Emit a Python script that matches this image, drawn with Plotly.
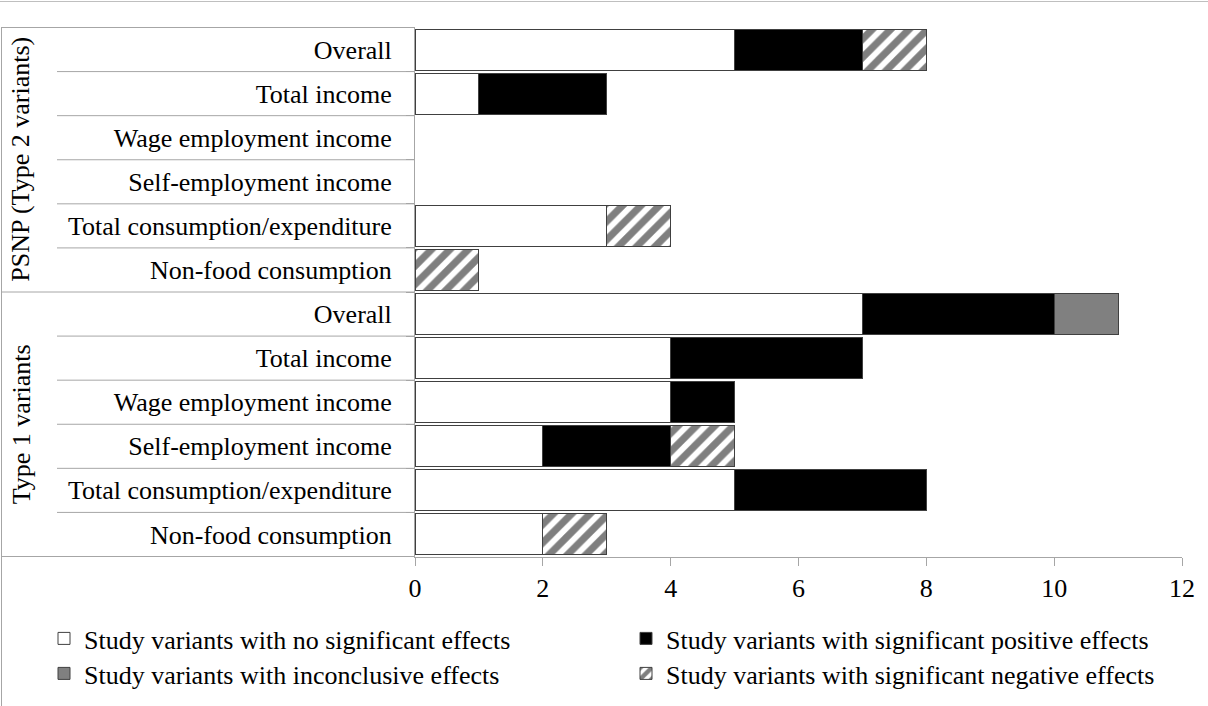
import plotly.graph_objects as go

# ---------------- data ----------------
groups = ["PSNP (Type 2 variants)"] * 6 + ["Type 1 variants"] * 6
outcomes = ["Overall", "Total income", "Wage employment income",
            "Self-employment income", "Total consumption/expenditure",
            "Non-food consumption"] * 2

no_sig = [5, 1, 0, 0, 3, 0, 7, 4, 4, 2, 5, 2]
sig_pos = [2, 2, 0, 0, 0, 0, 3, 3, 1, 2, 3, 0]
inconclusive = [0, 0, 0, 0, 0, 0, 1, 0, 0, 0, 0, 0]
sig_neg = [1, 0, 0, 0, 1, 1, 0, 0, 0, 1, 0, 1]

series_names = ["Study variants with no significant effects",
                "Study variants with significant positive effects",
                "Study variants with inconclusive effects",
                "Study variants with significant negative effects"]

x_ticks = [0, 2, 4, 6, 8, 10, 12]

# ---------------- layout constants ----------------
W, H = 1208, 706
ML, MR, MT, MB = 415, 26, 27, 149
PW, PH = W - ML - MR, H - MT - MB
FONT = "Liberation Serif"
GRID = "#a6a6a6"

def px_to_paper_x(px):
    return (px - ML) / PW

def px_to_paper_y(py):
    return (H - MB - py) / PH

ids = [f"{g} | {o}" for g, o in zip(groups, outcomes)]

def nz(vals):
    return [v if v else None for v in vals]

fig = go.Figure()
outline = dict(color="#404040", width=1)
fig.add_bar(y=ids, x=nz(no_sig), orientation="h", name=series_names[0],
            marker=dict(color="white", line=outline), legend="legend")
fig.add_bar(y=ids, x=nz(sig_pos), orientation="h", name=series_names[1],
            marker=dict(color="black", line=outline), legend="legend2")
fig.add_bar(y=ids, x=nz(inconclusive), orientation="h", name=series_names[2],
            marker=dict(color="#808080", line=outline), legend="legend3")
fig.add_bar(y=ids, x=nz(sig_neg), orientation="h", name=series_names[3],
            marker=dict(color="white", line=outline,
                        pattern=dict(shape="/", fgcolor="black", bgcolor="white",
                                     size=13, solidity=0.55)),
            legend="legend4")

shapes = []
n = len(ids)
xl_table = px_to_paper_x(1.5)
xl_inner = px_to_paper_x(57)
# horizontal separators of the category table
for k in range(n + 1):
    b = k - 0.5
    x0 = xl_table if k in (0, 6, 12) else xl_inner
    shapes.append(dict(type="line", xref="paper", yref="y", x0=x0, x1=0,
                       y0=b, y1=b, line=dict(color=GRID, width=1)))
# left vertical line of the table / frame
shapes.append(dict(type="line", xref="paper", yref="paper", x0=xl_table, x1=xl_table,
                   y0=px_to_paper_y(H), y1=1, line=dict(color=GRID, width=1)))
# top frame line
shapes.append(dict(type="line", xref="paper", yref="paper",
                   x0=px_to_paper_x(0), x1=px_to_paper_x(W),
                   y0=px_to_paper_y(1.5), y1=px_to_paper_y(1.5),
                   line=dict(color="#bfbfbf", width=1)))

annotations = []
for gname, center in [("PSNP (Type 2 variants)", 2.5), ("Type 1 variants", 8.5)]:
    annotations.append(dict(text=gname, xref="paper", yref="y",
                            x=px_to_paper_x(21), y=center, textangle=-90,
                            xanchor="center", yanchor="middle",
                            showarrow=False,
                            font=dict(family=FONT, size=26, color="black")))

legend_common = dict(orientation="v", xref="container", yref="container",
                     xanchor="left", yanchor="top", traceorder="normal",
                     font=dict(family=FONT, size=26, color="black"),
                     itemwidth=30, tracegroupgap=0, bgcolor="rgba(0,0,0,0)")

row1_top, row2_top = 615, 650
col1_x, col2_x = 44, 626

fig.update_layout(
    width=W, height=H, autosize=False,
    margin=dict(l=ML, r=MR, t=MT, b=MB, autoexpand=False),
    plot_bgcolor="white", paper_bgcolor="white",
    barmode="stack", bargap=0.07,
    font=dict(family=FONT, size=26, color="black"),
    shapes=shapes, annotations=annotations,
    xaxis=dict(range=[0, 12], tickvals=x_ticks, showgrid=False, zeroline=False,
               showline=True, linecolor=GRID, linewidth=1, automargin=False,
               ticks="outside", ticklen=8, tickcolor=GRID,
               tickfont=dict(family=FONT, size=26, color="black")),
    yaxis=dict(type="category", categoryorder="array", categoryarray=ids,
               autorange="reversed", tickvals=ids, ticktext=outcomes,
               showgrid=False, zeroline=False, showline=True, linecolor=GRID,
               automargin=False,
               ticks="outside", tickson="boundaries", ticklen=8, tickcolor=GRID,
               ticklabelstandoff=17,
               tickfont=dict(family=FONT, size=26, color="black")),
    legend=dict(x=col1_x / W, y=1 - row1_top / H, **legend_common),
    legend2=dict(x=col2_x / W, y=1 - row1_top / H, **legend_common),
    legend3=dict(x=col1_x / W, y=1 - row2_top / H, **legend_common),
    legend4=dict(x=col2_x / W, y=1 - row2_top / H, **legend_common),
    showlegend=True,
)

fig.write_html("out.html", config={"displayModeBar": False},
               post_script="document.body.style.margin='0';")
